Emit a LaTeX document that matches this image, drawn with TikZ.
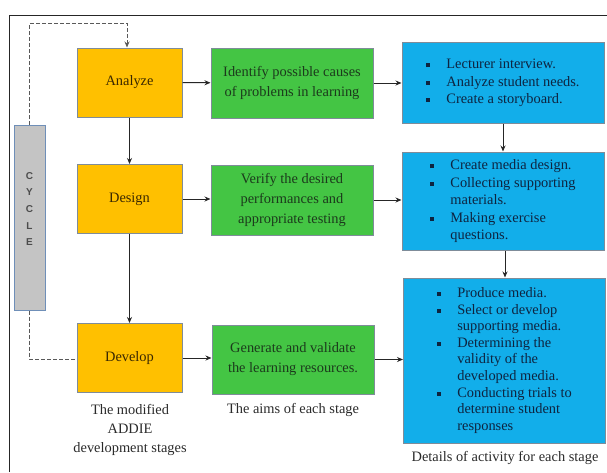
\documentclass[tikz,border=0pt]{standalone}
\usepackage{fontspec}
\setmainfont{Liberation Serif}
\setsansfont{Liberation Sans}
\usetikzlibrary{arrows.meta}
\definecolor{stageorange}{HTML}{FFC000}
\definecolor{aimgreen}{HTML}{44C544}
\definecolor{actblue}{HTML}{12AEEA}
\definecolor{cyclegray}{HTML}{C4C4C4}
\definecolor{edgegray}{HTML}{7F8C99}
\definecolor{cycleedge}{HTML}{6F8FB8}
\definecolor{greentext}{HTML}{1C3A1C}
\definecolor{bluetext}{HTML}{0E2440}
\definecolor{orangetext}{HTML}{3A2800}
\definecolor{captext}{HTML}{2A2A2A}
\newcommand{\sqb}{\raisebox{1.5pt}{\rule{4pt}{4pt}}}
\begin{document}
\begin{tikzpicture}[x=1pt,y=-1pt,
  boxbase/.style={draw=edgegray,line width=1pt,inner sep=0pt,align=center,
    font=\fontsize{14.4}{20}\selectfont},
  stagebox/.style={boxbase,fill=stageorange,text=orangetext,minimum width=105pt,minimum height=69pt},
  aimbox/.style={boxbase,fill=aimgreen,text=greentext,minimum width=162pt},
  actbox/.style={boxbase,fill=actblue,text=bluetext,minimum width=202pt},
  caption/.style={text=captext,align=center,font=\fontsize{14.4}{19}\selectfont},
  conn/.style={line width=1pt,draw=black!85,-{Stealth[length=6pt,width=5pt]}},
  cyc/.style={draw=black!65,dashed,line width=1pt,dash pattern=on 4pt off 2pt}]
\useasboundingbox (0,0) rectangle (607,472);
\fill[white] (0,0) rectangle (607,472);
\draw[line width=1pt,black!85] (9,472) -- (9,15) -- (607,15);

% stage boxes
\node[stagebox] (an) at (129.5,82.5) {Analyze};
\node[stagebox] (de) at (129.5,199) {Design};
\node[stagebox] (dv) at (129.5,358) {Develop};

% cycle bar
\node[draw=cycleedge,line width=1pt,fill=cyclegray,minimum width=31pt,minimum height=185pt,inner sep=0pt] (cy) at (29.5,217.5) {};
\foreach \l/\yy in {C/176,Y/192,C/209,L/226,E/242}
  \node[font=\sffamily\bfseries\fontsize{10}{10}\selectfont,text=black!70] at (29.5,\yy) {\l};

% aim boxes
\node[aimbox,minimum height=70pt] (ga) at (292,83) {Identify possible causes\\of problems in learning};
\node[aimbox,minimum height=70pt] (gd) at (292,200) {Verify the desired\\performances and\\appropriate testing};
\node[aimbox,minimum height=69pt] (gv) at (293,359.5) {Generate and validate\\the learning resources.};

% activity boxes
\node[actbox,minimum height=81pt] (ba) at (503,82.5) {\fontsize{14.4}{17.5}\selectfont
  \begin{tabular}{@{}p{20pt}@{}l@{}}
  \sqb & Lecturer interview.\\
  \sqb & Analyze student needs.\\
  \sqb & Create a storyboard.
  \end{tabular}};
\node[actbox,minimum height=98pt] (bd) at (503,201) {\fontsize{14.4}{17.5}\selectfont
  \begin{tabular}{@{}p{20pt}@{}l@{}}
  \sqb & Create media design.\\
  \sqb & Collecting supporting\\
       & materials.\\
  \sqb & Making exercise\\
       & questions.
  \end{tabular}};
\node[actbox,minimum height=165pt] (bv) at (504.5,360.5) {\fontsize{14.4}{16.6}\selectfont
  \begin{tabular}{@{}p{20pt}@{}l@{}}
  \sqb & Produce media.\\
  \sqb & Select or develop\\
       & supporting media.\\
  \sqb & Determining the\\
       & validity of the\\
       & developed media.\\
  \sqb & Conducting trials to\\
       & determine student\\
       & responses
  \end{tabular}};

% captions
\node[caption] (c1) at (130,430) {The modified\\ADDIE\\development stages};
\node[caption] (c2) at (293,410) {The aims of each stage};
\node[caption] (c3) at (505,458) {Details of activity for each stage};

% connectors
\draw[conn] (an) -- (de);
\draw[conn] (de) -- (dv);
\draw[conn] (an) -- (ga);
\draw[conn] (de.east) -- (gd.west |- de.east);
\draw[conn] (dv.east) -- (gv.west |- dv.east);
\draw[conn] (ga.east) -- (ba.west |- ga.east);
\draw[conn] (gd.east) -- (bd.west |- gd.east);
\draw[conn] (gv.east) -- (bv.west |- gv.east);
\draw[conn] (ba.south -| 503,0) -- (bd.north -| 503,0);
\draw[conn] (bd.south -| 505,0) -- (bv.north -| 505,0);

% cycle dashed loop
\coordinate (ctop) at (29.5,23);
\coordinate (cright) at (127,23);
\coordinate (cbot) at (29.5,359);
\draw[cyc,-{Stealth[length=6pt,width=5pt]}] (cy.north) -- (ctop) -- (cright) -- (cright |- an.north);
\draw[cyc] (cy.south) -- (cbot) -- (dv.west |- cbot);
\end{tikzpicture}
\end{document}
